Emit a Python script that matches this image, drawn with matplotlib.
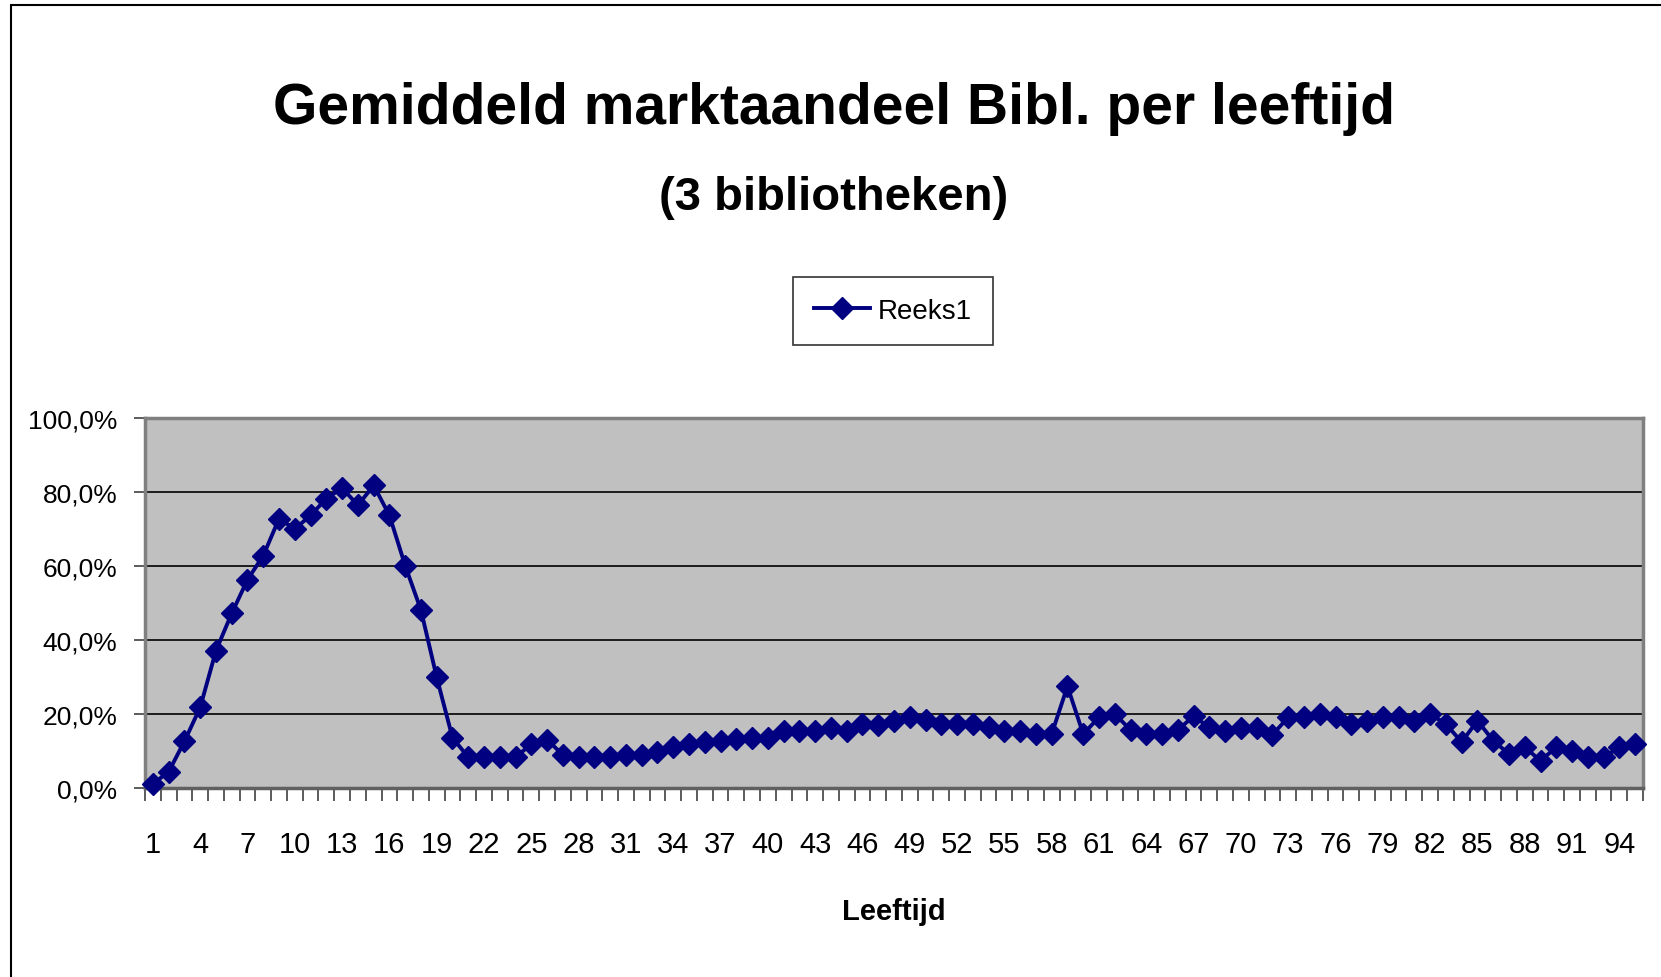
import numpy as np
import matplotlib
matplotlib.use('Agg')
import matplotlib.pyplot as plt
from matplotlib.ticker import FixedLocator, FuncFormatter
from matplotlib.patches import Rectangle

# data
ages = list(range(1, 96))
share = [1.1, 4.4, 12.6, 21.8, 37.1, 47.2, 56.3, 62.8, 72.8, 70.0,
         73.7, 78.2, 81.1, 76.4, 81.8, 73.7, 60.1, 48.1, 29.9, 13.6,
         8.3, 8.3, 8.3, 8.3, 11.9, 13.0, 9.0, 8.3, 8.3, 8.3,
         9.0, 9.0, 9.6, 11.0, 11.9, 12.4, 12.8, 13.3, 13.5, 13.5,
         15.5, 15.5, 15.5, 16.2, 15.3, 17.3, 16.9, 18.2, 19.1, 18.5,
         17.3, 17.3, 17.3, 16.4, 15.5, 15.5, 14.6, 14.6, 27.5, 14.6,
         19.1, 20.0, 15.7, 14.6, 14.6, 15.7, 19.4, 16.4, 15.3, 16.1,
         16.1, 14.4, 19.1, 19.3, 20.0, 19.3, 17.3, 18.2, 19.3, 19.3,
         18.2, 20.0, 17.3, 12.4, 18.2, 12.8, 9.2, 11.0, 7.4, 11.0,
         10.1, 8.3, 8.3, 11.0, 11.9]
label_ages = list(range(1, 96, 3))
y_ticks = [0, 20, 40, 60, 80, 100]

title = 'Gemiddeld marktaandeel Bibl. per leeftijd'
subtitle = '(3 bibliotheken)'
series_name = 'Reeks1'
xlabel = 'Leeftijd'

plt.rcParams['font.family'] = ['Liberation Sans', 'DejaVu Sans']

W, H = 1661, 978
fig = plt.figure(figsize=(W / 100, H / 100), dpi=100)
ax = fig.add_axes([145 / W, 1 - 789 / H, (1643 - 145) / W, (789 - 419) / H])
ax.set_facecolor('#c0c0c0')

ax.plot(ages, share, color='#000080', lw=2.8, marker='D', ms=11,
        mec='#000080', mfc='#000080', label=series_name, zorder=3, clip_on=False)

ax.set_xlim(0.5, 95.5)
ax.set_ylim(0, 100)

# gridlines
for v in y_ticks[1:-1]:
    ax.axhline(v, color='black', lw=1.2, zorder=1)

# x ticks: marks between categories, labels every 3rd age
ax.xaxis.set_major_locator(FixedLocator(np.arange(0.5, 96, 1)))
ax.xaxis.set_major_formatter(FuncFormatter(lambda v, p: ''))
ax.xaxis.set_minor_locator(FixedLocator(label_ages))
ax.xaxis.set_minor_formatter(FuncFormatter(lambda v, p: '%d' % round(v)))
ax.tick_params(axis='x', which='major', direction='out', length=9, width=1.2, color='#404040')
ax.tick_params(axis='x', which='minor', length=0, pad=30, labelsize=21)

ax.set_yticks(y_ticks)
ax.yaxis.set_major_formatter(FuncFormatter(lambda v, p: ('%.1f%%' % v).replace('.', ',')))
ax.tick_params(axis='y', direction='out', length=8, width=1.2, color='#404040', labelsize=19, pad=12)

for s in ax.spines.values():
    s.set_color('#808080')
    s.set_linewidth(2.5)
ax.spines['bottom'].set_color('#606060')

ax.set_xlabel(xlabel, fontsize=21, fontweight='bold', labelpad=28)

fig.text(834 / W, 1 - 124 / H, title, ha='center', va='baseline',
         fontsize=41, fontweight='bold')
fig.text(834 / W, 1 - 210 / H, subtitle, ha='center', va='baseline',
         fontsize=34, fontweight='bold')

leg = ax.legend(loc='center', bbox_to_anchor=(893 / W, 1 - 312 / H),
                bbox_transform=fig.transFigure, fontsize=20, frameon=True,
                fancybox=False, handlelength=2.0, borderpad=0.75, handletextpad=0.3,
                borderaxespad=0)
leg.get_frame().set_edgecolor('black')
leg.get_frame().set_linewidth(1.2)

# outer chart border
fig.patches.append(Rectangle((11 / W, -0.2), 1.2, 1.2 - 5.5 / H, transform=fig.transFigure,
                             fill=False, edgecolor='black', lw=1.5))

fig.savefig('out.png', dpi=100, facecolor='white')
